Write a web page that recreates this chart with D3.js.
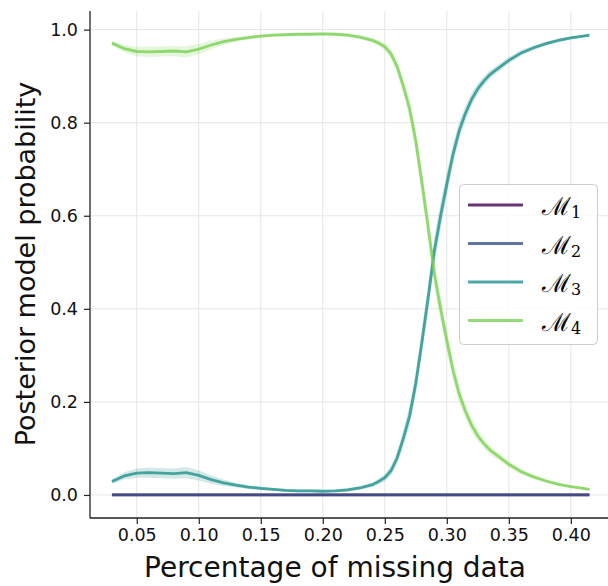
<!DOCTYPE html>
<html><head><meta charset="utf-8">
<script src="https://cdn.jsdelivr.net/npm/d3@7"></script>
<style>body{margin:0;background:#fff}svg{display:block}text{font-family:"DejaVu Sans",sans-serif}</style>
</head><body><svg id="c" width="608" height="586"></svg>
<script>
const xValues = [0.03,0.04,0.05,0.06,0.07,0.08,0.09,0.10,0.11,0.12,0.13,0.14,0.15,0.16,0.17,0.18,0.19,0.20,0.21,0.22,0.23,0.24,
 0.245,0.25,0.255,0.26,0.265,0.27,0.275,0.28,0.285,0.29,0.295,0.30,0.305,0.31,0.315,0.32,0.325,0.33,0.335,0.34,
 0.35,0.36,0.37,0.38,0.39,0.40,0.41,0.415];
const m1 = xValues.map(() => 0);
const m2 = xValues.map(() => 0);
const m3 = [0.029,0.041,0.047,0.048,0.047,0.046,0.048,0.042,0.033,0.026,0.021,0.017,0.014,0.012,0.010,0.009,0.009,0.008,0.009,0.011,0.015,0.022,
 0.029,0.037,0.052,0.080,0.122,0.170,0.240,0.330,0.425,0.525,0.600,0.668,0.732,0.783,0.820,0.850,0.873,0.890,0.904,0.914,
 0.934,0.950,0.961,0.970,0.977,0.982,0.986,0.988];
const m4 = [0.971,0.959,0.953,0.952,0.953,0.954,0.952,0.958,0.967,0.974,0.979,0.983,0.986,0.988,0.989,0.990,0.990,0.991,0.990,0.988,0.984,0.977,
 0.971,0.963,0.948,0.920,0.878,0.830,0.760,0.670,0.575,0.475,0.400,0.332,0.268,0.217,0.180,0.150,0.127,0.110,0.096,0.086,
 0.066,0.050,0.039,0.030,0.023,0.018,0.014,0.012];
const spread = [0.005,0.008,0.010,0.011,0.011,0.011,0.012,0.011,0.009,0.007,0.005,0.004,0.004,0.003,0.003,0.003,0.003,0.003,0.003,0.004,0.004,0.005,
 0.006,0.008,0.010,0.014,0.018,0.022,0.025,0.028,0.030,0.030,0.028,0.025,0.022,0.019,0.016,0.014,0.012,0.010,0.009,0.008,
 0.007,0.006,0.005,0.004,0.004,0.003,0.003,0.003];
const seriesNames = ["1","2","3","4"];
const seriesColors = ["#440154","#3b528b","#21918c","#7ad151"];
const xTicks = [0.05,0.10,0.15,0.20,0.25,0.30,0.35,0.40];
const yTicks = [0.0,0.2,0.4,0.6,0.8,1.0];
const xLabel = "Percentage of missing data";
const yLabel = "Posterior model probability";

const series = [m1,m2,m3,m4];
const spreads = [m1, m2, spread, spread];

const svg = d3.select("#c");
const x = d3.scaleLinear().domain([0.0123, 0.434]).range([90, 613]);
const y = d3.scaleLinear().domain([-0.0495, 1.04]).range([518, 11]);

// grid
const grid = svg.append("g");
grid.selectAll("line.vx").data(xTicks).join("line")
  .attr("x1", d => x(d)).attr("x2", d => x(d)).attr("y1", 11).attr("y2", 518)
  .attr("stroke", "#e6e6e6").attr("stroke-width", 1);
grid.selectAll("line.hy").data(yTicks).join("line")
  .attr("x1", 90).attr("x2", 608).attr("y1", d => y(d)).attr("y2", d => y(d))
  .attr("stroke", "#e6e6e6").attr("stroke-width", 1);

// bands + lines
const area = (vals, sd) => d3.area().x((d,i) => x(xValues[i])).y0((d,i) => y(vals[i]-sd[i])).y1((d,i) => y(vals[i]+sd[i]));
const line = vals => d3.line().x((d,i) => x(xValues[i])).y((d,i) => y(vals[i]));
series.forEach((vals, k) => {
  svg.append("path").attr("d", area(vals, spreads[k])(vals))
    .attr("fill", seriesColors[k]).attr("fill-opacity", 0.2).attr("stroke", "none");
});
series.forEach((vals, k) => {
  svg.append("path").attr("d", line(vals)(vals))
    .attr("fill", "none").attr("stroke", seriesColors[k]).attr("stroke-opacity", 0.8)
    .attr("stroke-width", 2.8);
});

// axes
const xAxis = svg.append("g").attr("transform", "translate(0,518)")
  .call(d3.axisBottom(x).tickValues(xTicks).tickFormat(d3.format(".2f")).tickSize(6).tickPadding(5));
const yAxis = svg.append("g").attr("transform", "translate(90,0)")
  .call(d3.axisLeft(y).tickValues(yTicks).tickFormat(d3.format(".1f")).tickSize(6).tickPadding(6));
[xAxis, yAxis].forEach(g => {
  g.select(".domain").attr("stroke", "#222").attr("stroke-width", 1.3);
  g.selectAll(".tick line").attr("stroke", "#222").attr("stroke-width", 1.2);
  g.selectAll(".tick text").attr("fill", "#111").style("font-size", "17.5px").style("font-family", "DejaVu Sans");
});
xAxis.select(".domain").attr("d", "M90,0H608");
yAxis.select(".domain").attr("d", "M0,11V518");

svg.append("text").attr("x", 335).attr("y", 577).attr("text-anchor", "middle")
  .style("font-size", "28px").attr("fill", "#111").text(xLabel);
svg.append("text").attr("transform", "translate(35,264) rotate(-90)").attr("text-anchor", "middle")
  .style("font-size", "27px").attr("fill", "#111").text(yLabel);

// legend
const lg = svg.append("g");
lg.append("rect").attr("x", 459.5).attr("y", 184.5).attr("width", 138).attr("height", 160).attr("rx", 4)
  .attr("fill", "#fff").attr("fill-opacity", 0.8).attr("stroke", "#cccccc").attr("stroke-width", 1);
seriesNames.forEach((n, k) => {
  const ly = 205 + k * 38.5;
  lg.append("line").attr("x1", 468).attr("x2", 523).attr("y1", ly).attr("y2", ly)
    .attr("stroke", seriesColors[k]).attr("stroke-opacity", 0.8).attr("stroke-width", 2.8);
  const t = lg.append("text").attr("x", 542).attr("y", ly + 10).attr("fill", "#000");
  t.append("tspan").style("font-family", "DejaVu Serif").style("font-size", "25px").text("ℳ");
  t.append("tspan").attr("dy", 3).style("font-family", "DejaVu Serif").style("font-size", "16px").text(n);
});
</script></body></html>
